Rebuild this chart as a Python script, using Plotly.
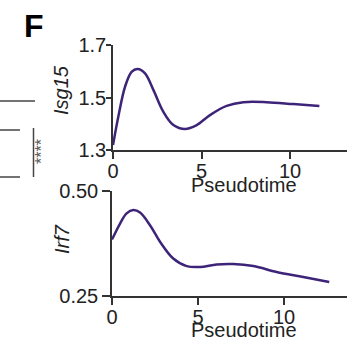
import plotly.graph_objects as go

# Data
isg15_x = [0, 0.3, 0.68, 1.05, 1.39, 1.81, 2.28, 2.84, 3.41, 4.07, 4.73, 5.48, 6.42, 7.36, 8.68, 10.19, 11.66]
isg15_y = [1.319, 1.427, 1.541, 1.598, 1.609, 1.592, 1.529, 1.446, 1.395, 1.380, 1.395, 1.433, 1.468, 1.482, 1.482, 1.475, 1.468]
irf7_x = [0, 0.47, 0.85, 1.24, 1.63, 2.21, 2.79, 3.56, 4.34, 5.12, 6.09, 7.05, 8.22, 9.57, 11.12, 12.63]
irf7_y = [0.384, 0.422, 0.446, 0.454, 0.448, 0.418, 0.379, 0.339, 0.321, 0.319, 0.325, 0.326, 0.321, 0.307, 0.295, 0.283]
x_ticks = [0, 5, 10]
isg15_ticks = [1.3, 1.5, 1.7]
irf7_ticks = [0.25, 0.50]
irf7_ticklabels = ["0.25", "0.50"]

W, H = 347, 338
FONT = "Arial, Liberation Sans, sans-serif"
LINE = "#3E2479"
AX = "#333333"
TXT = "#222222"
FS = 20

def px(x):
    return x / W

def py(y):
    return 1 - y / H

fig = go.Figure()
fig.add_trace(go.Scatter(x=isg15_x, y=isg15_y, mode="lines",
                         line=dict(color=LINE, width=2.5, shape="spline", smoothing=1.0),
                         xaxis="x", yaxis="y", showlegend=False, hoverinfo="skip"))
fig.add_trace(go.Scatter(x=irf7_x, y=irf7_y, mode="lines",
                         line=dict(color=LINE, width=2.5, shape="spline", smoothing=1.0),
                         xaxis="x2", yaxis="y2", showlegend=False, hoverinfo="skip"))

axis_common = dict(showline=True, linecolor=AX, linewidth=1.5, ticks="outside",
                   tickwidth=1.5, tickcolor=AX, showgrid=False, zeroline=False,
                   automargin=False,
                   tickfont=dict(family=FONT, size=FS, color=TXT))

fig.update_layout(
    width=W, height=H, autosize=False,
    margin=dict(l=0, r=0, t=0, b=0, pad=0, autoexpand=False),
    paper_bgcolor="white", plot_bgcolor="white",
    xaxis=dict(domain=[px(113), 1.0], range=[0, (W - 113) / 17.7], tickvals=x_ticks,
               anchor="y", ticklen=7, ticklabelstandoff=-5, **axis_common),
    yaxis=dict(domain=[py(150), py(45)], range=[1.3, 1.7], tickvals=isg15_ticks,
               anchor="x", ticklen=5, ticklabelstandoff=-4, **axis_common),
    xaxis2=dict(domain=[px(112), 1.0], range=[0, (W - 112) / 17.2], tickvals=x_ticks,
                anchor="y2", ticklen=7, ticklabelstandoff=-5, **axis_common),
    yaxis2=dict(domain=[py(296), py(190.7)], range=[0.25, 0.50], tickvals=irf7_ticks,
                ticktext=irf7_ticklabels, anchor="x2", ticklen=8, **axis_common),
)

annots = [
    dict(text="<b>F</b>", x=px(34), y=py(26), font=dict(size=32, color="black")),
    dict(text="<i>Isg15</i>", x=px(61), y=py(90), textangle=-90, font=dict(size=FS, color=TXT)),
    dict(text="<i>Irf7</i>", x=px(62), y=py(239), textangle=-90, font=dict(size=FS, color=TXT)),
    dict(text="Pseudotime", x=px(244), y=py(185), font=dict(size=FS, color=TXT)),
    dict(text="Pseudotime", x=px(244), y=py(330), font=dict(size=FS, color=TXT)),
    dict(text="****", x=px(41), y=py(152), textangle=-90, font=dict(size=16, color="#555555")),
]
for a in annots:
    a.update(xref="paper", yref="paper", showarrow=False, xanchor="center", yanchor="middle")
    a["font"]["family"] = FONT
    fig.add_annotation(**a)

shapes = [
    (0, 101, 35, 101),
    (0, 130, 20, 130),
    (0, 177, 20, 177),
    (33.5, 128, 33.5, 177),
]
for x0, y0, x1, y1 in shapes:
    fig.add_shape(type="line", xref="paper", yref="paper",
                  x0=px(x0), y0=py(y0), x1=px(x1), y1=py(y1),
                  line=dict(color="#444444", width=1.5))

fig.write_html("out.html", config={"displayModeBar": False},
               post_script="document.body.style.margin='0';document.body.style.overflow='hidden';")
